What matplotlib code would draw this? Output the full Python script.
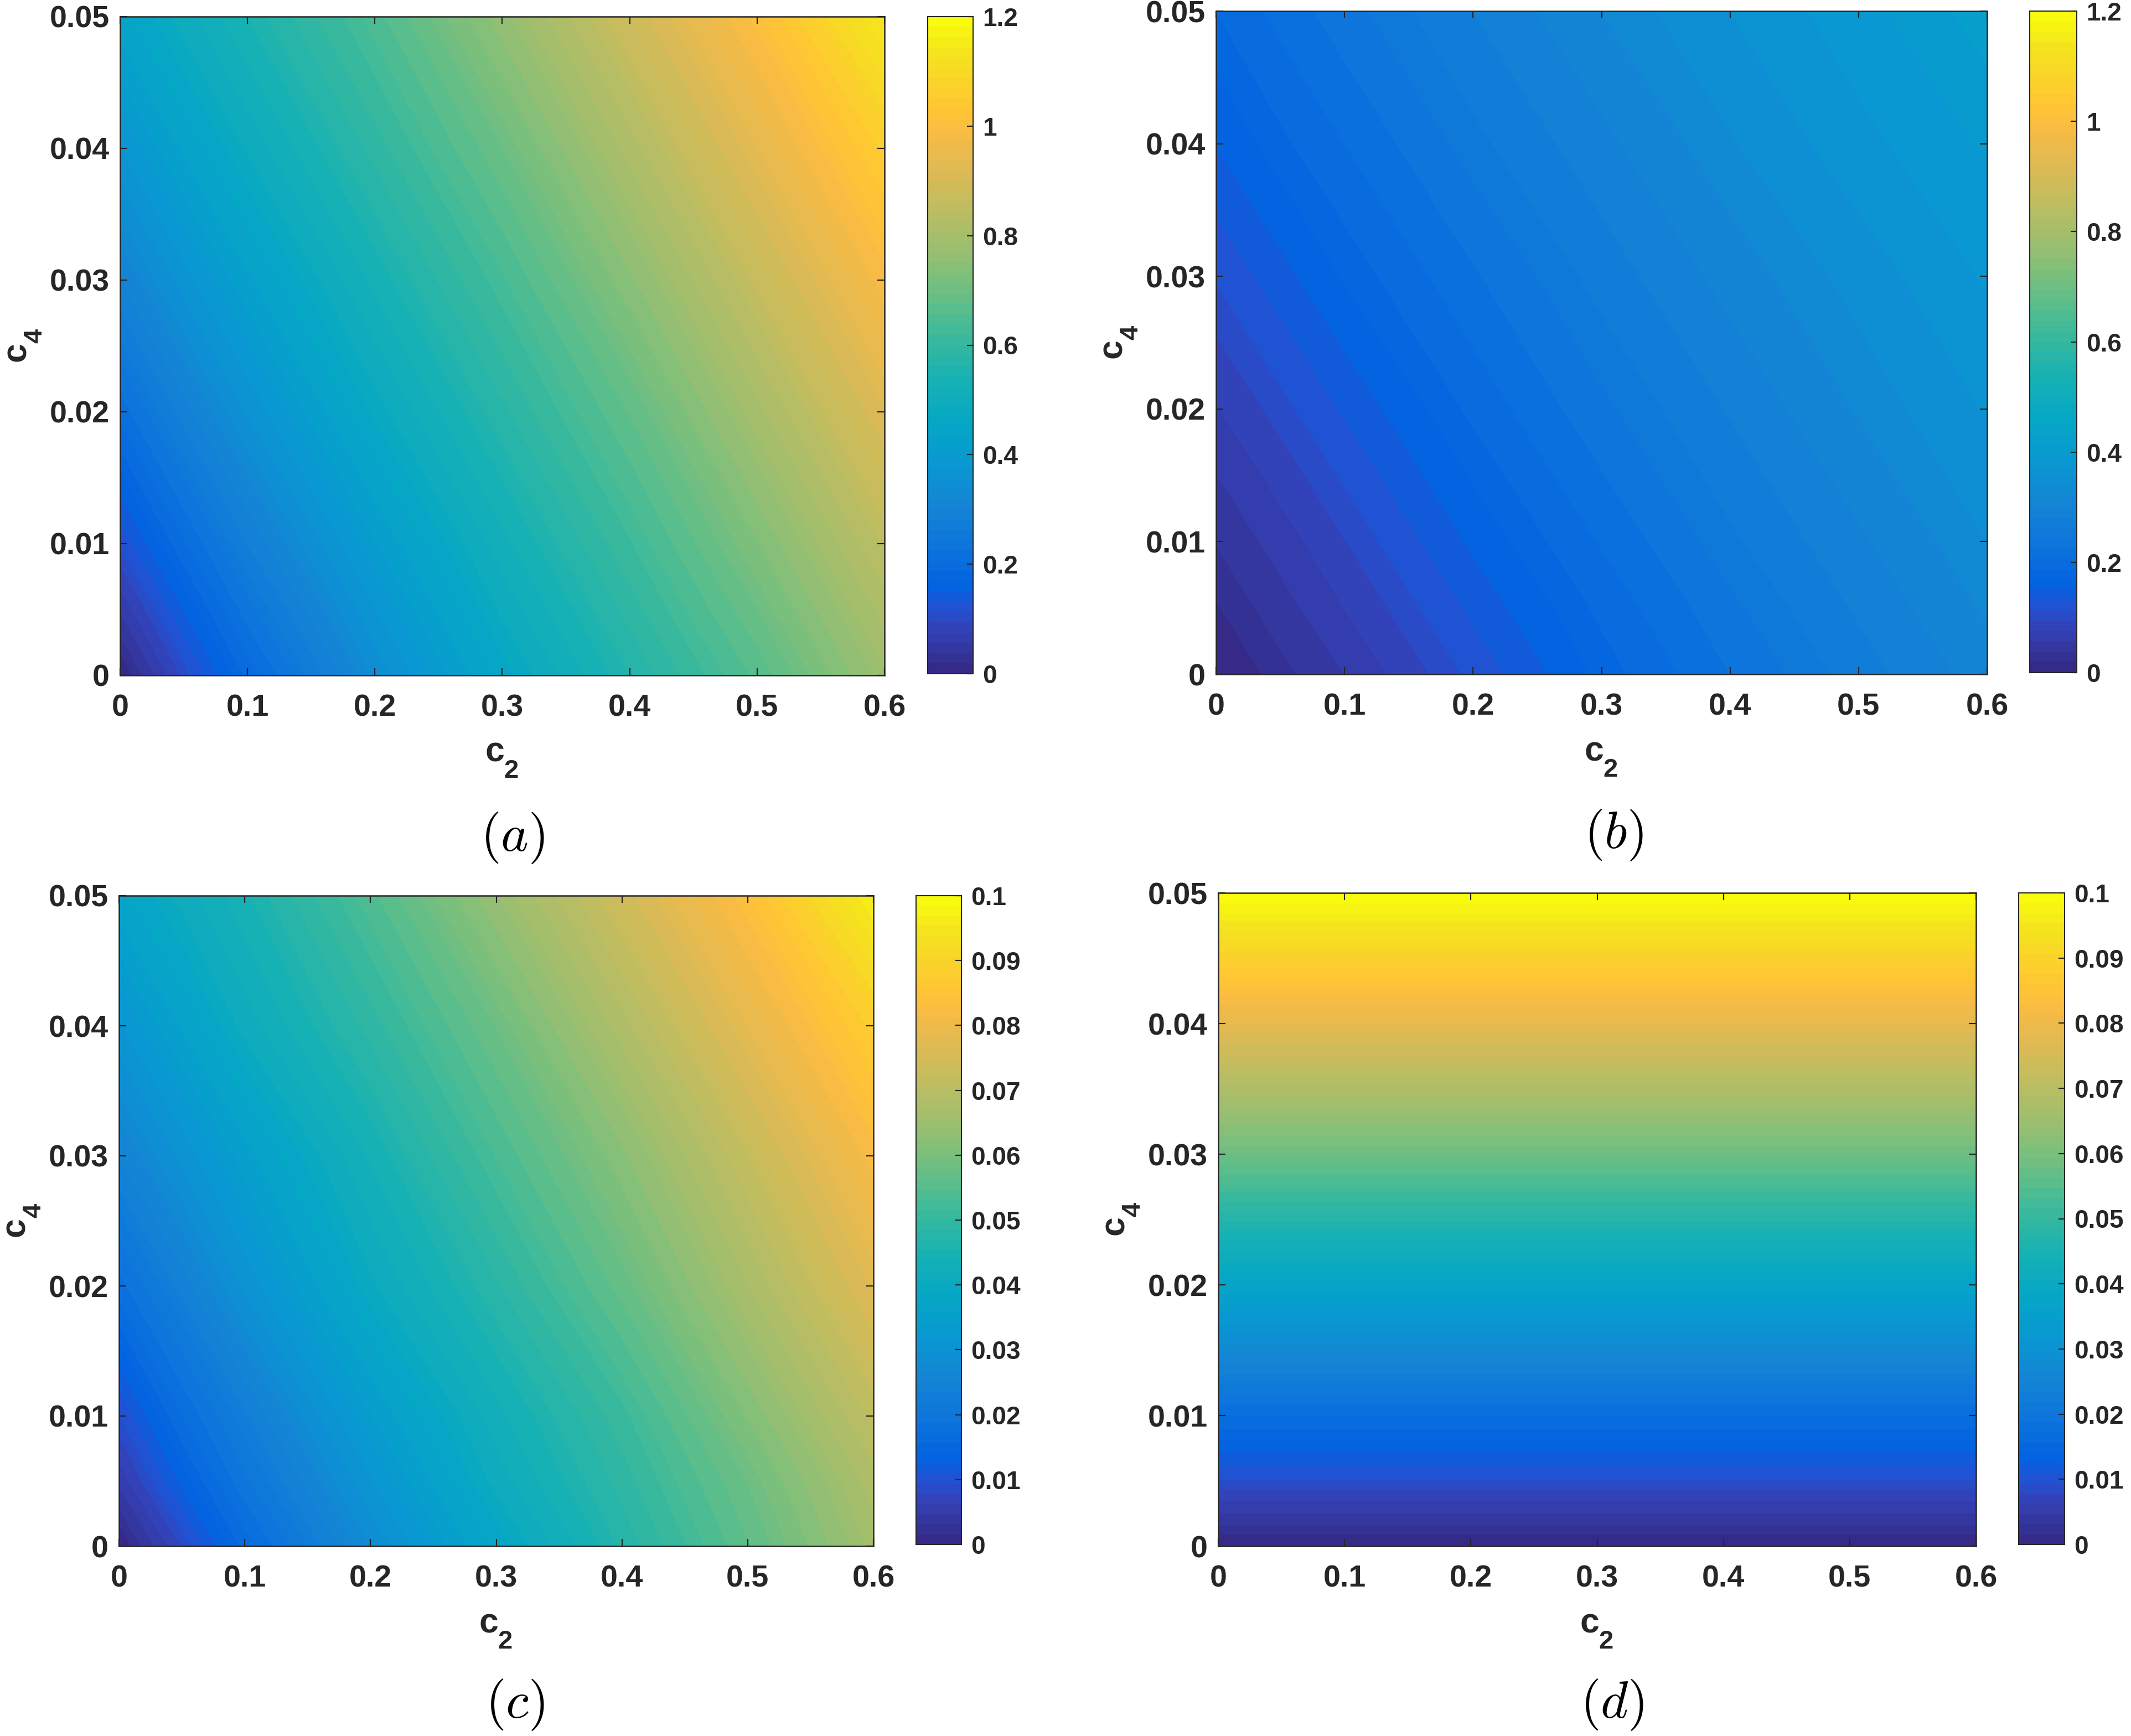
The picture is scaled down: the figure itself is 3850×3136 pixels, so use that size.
import numpy as np
import matplotlib
matplotlib.use('Agg')
import matplotlib.pyplot as plt
from matplotlib.colors import LinearSegmentedColormap, Normalize
from matplotlib.cm import ScalarMappable
from matplotlib.ticker import FuncFormatter

## --- values ---
# grid the values were read on
c2_grid = [0.0, 0.05, 0.1, 0.2, 0.3, 0.4, 0.5, 0.6]
c4_grid = [0.0, 0.005, 0.01, 0.02, 0.03, 0.04, 0.05]

# rows follow c4_grid, columns follow c2_grid
vals_a = [
    [0.000, 0.100, 0.190, 0.340, 0.460, 0.560, 0.660, 0.780],
    [0.057, 0.151, 0.236, 0.374, 0.489, 0.588, 0.694, 0.814],
    [0.113, 0.201, 0.280, 0.408, 0.517, 0.617, 0.728, 0.848],
    [0.212, 0.290, 0.357, 0.474, 0.574, 0.677, 0.797, 0.917],
    [0.299, 0.365, 0.425, 0.531, 0.631, 0.745, 0.865, 0.985],
    [0.374, 0.434, 0.488, 0.588, 0.694, 0.814, 0.934, 1.056],
    [0.442, 0.495, 0.545, 0.645, 0.762, 0.882, 1.002, 1.150],
]
vals_b = [
    [0.000, 0.028, 0.055, 0.115, 0.175, 0.225, 0.270, 0.310],
    [0.018, 0.046, 0.075, 0.135, 0.190, 0.240, 0.283, 0.323],
    [0.036, 0.064, 0.094, 0.154, 0.207, 0.256, 0.296, 0.335],
    [0.073, 0.103, 0.133, 0.190, 0.240, 0.282, 0.322, 0.357],
    [0.112, 0.142, 0.172, 0.222, 0.268, 0.308, 0.343, 0.378],
    [0.151, 0.180, 0.205, 0.254, 0.294, 0.333, 0.368, 0.398],
    [0.185, 0.212, 0.237, 0.280, 0.320, 0.355, 0.388, 0.418],
]
vals_c = [
    [0.000, 0.008, 0.016, 0.028, 0.038, 0.047, 0.056, 0.066],
    [0.005, 0.013, 0.020, 0.031, 0.041, 0.049, 0.058, 0.068],
    [0.009, 0.017, 0.023, 0.034, 0.043, 0.051, 0.061, 0.071],
    [0.018, 0.024, 0.030, 0.040, 0.048, 0.057, 0.067, 0.077],
    [0.025, 0.030, 0.035, 0.044, 0.053, 0.062, 0.072, 0.082],
    [0.031, 0.036, 0.041, 0.049, 0.058, 0.068, 0.078, 0.088],
    [0.037, 0.041, 0.045, 0.054, 0.064, 0.074, 0.084, 0.097],
]
# (d) does not change along c2, only a profile in c4
c2_edges_d = [0.0, 0.6]
c4_grid_d = [0.0, 0.0025, 0.005, 0.01, 0.015, 0.02, 0.025, 0.03, 0.035, 0.04, 0.045, 0.05]
prof_d = [0.0, 0.0045, 0.009, 0.017, 0.027, 0.037, 0.047, 0.058, 0.068, 0.078, 0.089, 0.100]

x_ticks = [0, 0.1, 0.2, 0.3, 0.4, 0.5, 0.6]
y_ticks = [0, 0.01, 0.02, 0.03, 0.04, 0.05]
cb_ticks_big = [0, 0.2, 0.4, 0.6, 0.8, 1.0, 1.2]
cb_ticks_small = [0, 0.01, 0.02, 0.03, 0.04, 0.05, 0.06, 0.07, 0.08, 0.09, 0.1]
tags = ['(a)', '(b)', '(c)', '(d)']

## --- parula-like colour map (MATLAB default) ---
parula_pts = [
    (0, (0.2081, 0.1663, 0.5292)), (4, (0.1959, 0.2645, 0.7279)),
    (6, (0.1253, 0.3242, 0.8303)), (8, (0.0117, 0.3875, 0.8820)),
    (12, (0.0498, 0.4586, 0.8641)), (16, (0.0793, 0.5200, 0.8312)),
    (20, (0.0343, 0.5966, 0.8199)), (24, (0.0228, 0.6535, 0.7768)),
    (28, (0.0843, 0.6928, 0.7062)), (32, (0.2178, 0.7250, 0.6193)),
    (36, (0.3953, 0.7459, 0.5244)), (40, (0.5709, 0.7485, 0.4494)),
    (44, (0.7184, 0.7411, 0.3905)), (48, (0.8507, 0.7299, 0.3360)),
    (52, (0.9739, 0.7314, 0.2666)), (54, (0.9990, 0.7653, 0.2164)),
    (56, (0.9880, 0.8066, 0.1794)), (60, (0.9589, 0.8949, 0.1132)),
    (63, (0.9763, 0.9831, 0.0538)),
]
parula = LinearSegmentedColormap.from_list(
    'parula', [(i / 63, c) for i, c in parula_pts], N=64)

plt.rcParams['font.family'] = ['Liberation Sans', 'DejaVu Sans']
plt.rcParams['font.weight'] = 'bold'

W, H = 3850, 3136
fig = plt.figure(figsize=(W / 100, H / 100), dpi=100)
dark = (0.15, 0.15, 0.15)


def rect(x0, y0, x1, y1):
    return [x0 / W, 1 - y1 / H, (x1 - x0) / W, (y1 - y0) / H]


def ftext(x, y, s, **kw):
    # x, y in pixels from the top-left corner of the figure
    return fig.text(x / W, 1 - y / H, s, **kw)


fmt = FuncFormatter(lambda v, p: '%g' % round(v, 4))

panels = [
    (c2_grid, c4_grid, np.array(vals_a), 1.2, cb_ticks_big,
     (217, 30, 1598, 1220), (1676, 30, 1758, 1217), (926, 1514)),
    (c2_grid, c4_grid, np.array(vals_b), 1.2, cb_ticks_big,
     (2197, 20, 3590, 1218), (3667, 20, 3752, 1215), (2915, 1509)),
    (c2_grid, c4_grid, np.array(vals_c), 0.1, cb_ticks_small,
     (215, 1618, 1578, 2793), (1655, 1618, 1737, 2790), (930, 3080)),
    (c2_edges_d, c4_grid_d, np.tile(np.array(prof_d)[:, None], (1, 2)), 0.1, cb_ticks_small,
     (2201, 1613, 3570, 2793), (3647, 1613, 3730, 2790), (2913, 3080)),
]

for (xs, ys, z, vmax, cticks, axr, cbr, tagxy), tag in zip(panels, tags):
    ax = fig.add_axes(rect(*axr))
    levels = np.linspace(0, vmax, 241)
    cs = ax.contourf(xs, ys, z, levels=levels, cmap=parula, vmin=0, vmax=vmax)
    cs.set_edgecolor('face')
    cs.set_linewidth(0.6)
    ax.set_xlim(0, 0.6)
    ax.set_ylim(0, 0.05)
    ax.set_xticks(x_ticks)
    ax.set_yticks(y_ticks)
    ax.xaxis.set_major_formatter(fmt)
    ax.yaxis.set_major_formatter(fmt)
    ax.tick_params(direction='in', top=True, right=True, length=9.5, width=1.6,
                   colors=dark, labelsize=40)
    ax.tick_params(axis='x', pad=24)
    ax.tick_params(axis='y', pad=14)
    for s in ax.spines.values():
        s.set_linewidth(1.8)
        s.set_color(dark)

    # axis labels c_2 / c_4, MATLAB tex style with a deep subscript
    xc = (axr[0] + axr[2]) / 2
    yc = (axr[1] + axr[3]) / 2
    ftext(xc - 31, axr[3] + 156, 'c', fontsize=45, color=dark, ha='left', va='baseline')
    ftext(xc + 3, axr[3] + 185, '2', fontsize=34, color=dark, ha='left', va='baseline')
    ftext(axr[0] - 171, yc + 28, 'c', fontsize=45, color=dark, ha='left', va='baseline',
          rotation=90, rotation_mode='anchor')
    ftext(axr[0] - 142, yc - 5, '4', fontsize=34, color=dark, ha='left', va='baseline',
          rotation=90, rotation_mode='anchor')

    cax = fig.add_axes(rect(*cbr))
    sm = ScalarMappable(norm=Normalize(0, vmax), cmap=parula)
    cb = fig.colorbar(sm, cax=cax, ticks=cticks)
    cb.formatter = fmt
    cb.update_ticks()
    cb.outline.set_linewidth(1.5)
    cb.outline.set_edgecolor(dark)
    cax.tick_params(direction='in', right=True, length=8, width=1.6,
                    colors=dark, labelsize=33, pad=12)

    ftext(tagxy[0], tagxy[1], '$' + tag + '$', math_fontfamily='cm',
          fontsize=68, ha='center', va='center', color='black')

fig.savefig('out.png', dpi=100)
